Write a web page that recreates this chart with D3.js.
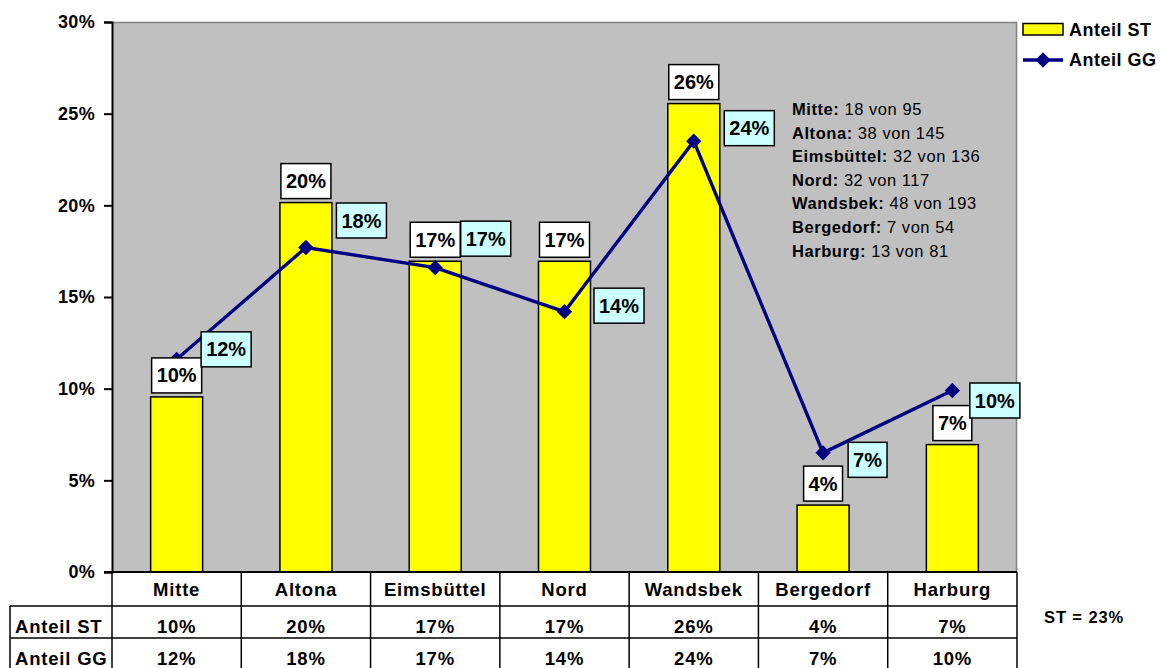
<!DOCTYPE html>
<html>
<head>
<meta charset="utf-8">
<script src="https://cdn.jsdelivr.net/npm/d3@7"></script>
<style>
  html, body { margin: 0; padding: 0; background: #fff; }
  svg { display: block; font-family: Arial, "Liberation Sans", sans-serif; }
</style>
</head>
<body>
<svg id="chart" width="1160" height="668"></svg>
<script>
// Bezirke
const districts = ["Mitte", "Altona", "Eimsbüttel", "Nord", "Wandsbek", "Bergedorf", "Harburg"];
// Anteil ST (bars)
const anteilST = [0.0955, 0.2015, 0.1695, 0.1695, 0.2555, 0.0365, 0.0695];
// Anteil GG (line)
const anteilGG = [0.116, 0.177, 0.166, 0.142, 0.235, 0.065, 0.099];
// y-axis ticks
const yTicks = [0, 0.05, 0.10, 0.15, 0.20, 0.25, 0.30];
// counts shown in the note box
const noteNames = ["Mitte:", "Altona:", "Eimsbüttel:", "Nord:", "Wandsbek:", "Bergedorf:", "Harburg:"];
const noteCounts = ["18 von 95", "38 von 145", "32 von 136", "32 von 117", "48 von 193", "7 von 54", "13 von 81"];
const seriesNames = ["Anteil ST", "Anteil GG"];
const totalNote = "ST = 23%";

// label placement for the GG labels (offset of the box from its point)
const ggLabelOffset = [[26, -10], [32, -27], [27, -29], [31, -6], [32, -13], [26, 7], [19, 10]];

const svg = d3.select("#chart");
const plot = { left: 112, right: 1017, top: 22, bottom: 572 };
const tableLeft = 10;
const rowLines = [572, 606, 638, 671];

const x = d3.scaleBand().domain(districts).range([plot.left, plot.right]);
const y = d3.scaleLinear().domain([0, 0.30]).range([plot.bottom, plot.top]);
const pct = d3.format(".0%");
const navy = "#000080";

// plot background
svg.append("rect")
  .attr("x", plot.left).attr("y", plot.top)
  .attr("width", plot.right - plot.left).attr("height", plot.bottom - plot.top)
  .attr("fill", "#C0C0C0");
svg.append("path")
  .attr("d", `M${plot.left},${plot.top + 0.5}H${plot.right - 0.5}V${plot.bottom}`)
  .attr("fill", "none").attr("stroke", "#808080").attr("stroke-width", 1.5);

// y axis
const yAxis = d3.axisLeft(y).tickValues(yTicks).tickFormat(pct).tickSize(8).tickPadding(9);
const gy = svg.append("g").attr("transform", `translate(${plot.left},0)`).call(yAxis);
gy.select(".domain").attr("stroke", "#000").attr("stroke-width", 2);
gy.selectAll(".tick line").attr("stroke", "#000").attr("stroke-width", 2);
gy.selectAll(".tick text")
  .attr("fill", "#000").attr("font-size", 18).attr("font-weight", "bold")
  .attr("letter-spacing", 0.3)
  .attr("font-family", "Arial, 'Liberation Sans', sans-serif");

// bars
const barW = 52;
svg.append("g").selectAll("rect").data(anteilST).join("rect")
  .attr("x", (d, i) => x(districts[i]) + x.bandwidth() / 2 - barW / 2)
  .attr("y", d => y(d))
  .attr("width", barW)
  .attr("height", d => y(0) - y(d))
  .attr("fill", "#FFFF00").attr("stroke", "#000").attr("stroke-width", 1.5);

// line + diamond markers
const cx = (i) => x(districts[i]) + x.bandwidth() / 2;
const line = d3.line().x((d, i) => cx(i)).y(d => y(d));
svg.append("path").datum(anteilGG)
  .attr("d", line).attr("fill", "none").attr("stroke", navy).attr("stroke-width", 3.4);
const diamond = d3.symbol().type(d3.symbolDiamond2).size(150);
svg.append("g").selectAll("path").data(anteilGG).join("path")
  .attr("d", diamond)
  .attr("transform", (d, i) => `translate(${cx(i)},${y(d)})`)
  .attr("fill", navy);

// label boxes
function labelBox(g, text, cxPos, cyPos, fill) {
  const t = g.append("text")
    .attr("x", cxPos).attr("y", cyPos)
    .attr("text-anchor", "middle").attr("dominant-baseline", "central")
    .attr("font-size", 20).attr("font-weight", "bold").attr("fill", "#000")
    .text(text);
  const w = t.node().getComputedTextLength() + 10;
  const h = 35;
  g.insert("rect", "text")
    .attr("x", cxPos - w / 2).attr("y", cyPos - h / 2)
    .attr("width", w).attr("height", h)
    .attr("fill", fill).attr("stroke", "#000").attr("stroke-width", 1.5);
  return w;
}

const stLabels = svg.append("g");
anteilST.forEach((d, i) => {
  const g = stLabels.append("g");
  labelBox(g, pct(d), cx(i), y(d) - 4 - 35 / 2, "#FFFFFF");
});
const ggLabels = svg.append("g");
anteilGG.forEach((d, i) => {
  const g = ggLabels.append("g");
  const txt = pct(d);
  const w = txt.length > 2 ? 47 : 37;
  const [dx, dy] = ggLabelOffset[i];
  labelBox(g, txt, cx(i) + dx + w / 2, y(d) + dy, "#CCFFFF");
});

// note block
const note = svg.append("g").attr("font-size", 16.5).attr("fill", "#000");
noteNames.forEach((n, i) => {
  const t = note.append("text")
    .attr("x", 792).attr("y", 115 + i * 23.6)
    .attr("letter-spacing", 0.55);
  t.append("tspan").attr("font-weight", "bold").text(n);
  t.append("tspan").text(" " + noteCounts[i]);
});

// legend
const leg = svg.append("g");
leg.append("rect").attr("x", 1023).attr("y", 23.5).attr("width", 40).attr("height", 11.5)
  .attr("fill", "#FFFF00").attr("stroke", "#000").attr("stroke-width", 1.5);
leg.append("line").attr("x1", 1023).attr("x2", 1063).attr("y1", 60).attr("y2", 60)
  .attr("stroke", navy).attr("stroke-width", 3.4);
leg.append("path").attr("d", diamond).attr("transform", "translate(1043,60)").attr("fill", navy);
seriesNames.forEach((s, i) => {
  leg.append("text").attr("x", 1069).attr("y", 30 + i * 30)
    .attr("dominant-baseline", "central")
    .attr("font-size", 18).attr("font-weight", "bold").attr("letter-spacing", 0.5)
    .text(s);
});

// data table
const tbl = svg.append("g");
const lineAttrs = (sel) => sel.attr("stroke", "#000").attr("stroke-width", 1.5);
tbl.append("line").attr("x1", plot.left - 8).attr("x2", plot.right).attr("y1", rowLines[0]).attr("y2", rowLines[0]).call(lineAttrs).attr("stroke-width", 2);
rowLines.slice(1).forEach(ry => {
  tbl.append("line").attr("x1", tableLeft).attr("x2", plot.right).attr("y1", ry).attr("y2", ry).call(lineAttrs);
});
tbl.append("line").attr("x1", tableLeft).attr("x2", tableLeft).attr("y1", rowLines[1]).attr("y2", rowLines[3]).call(lineAttrs);
districts.forEach((d, i) => {
  tbl.append("line").attr("x1", x(d)).attr("x2", x(d)).attr("y1", rowLines[0]).attr("y2", rowLines[3]).call(lineAttrs);
});
tbl.append("line").attr("x1", plot.right).attr("x2", plot.right).attr("y1", rowLines[0]).attr("y2", rowLines[3]).call(lineAttrs);

const cellText = (tx, ty, s, anchor) => tbl.append("text")
  .attr("x", tx).attr("y", ty).attr("text-anchor", anchor)
  .attr("font-size", 18.5).attr("font-weight", "bold").attr("letter-spacing", 0.8)
  .text(s);
districts.forEach((d, i) => {
  cellText(cx(i), 596, d, "middle");
  cellText(cx(i), 633, pct(anteilST[i]), "middle");
  cellText(cx(i), 665, pct(anteilGG[i]), "middle");
});
cellText(15, 633, seriesNames[0], "start");
cellText(15, 665, seriesNames[1], "start");

svg.append("text").attr("x", 1044).attr("y", 623)
  .attr("font-size", 16.5).attr("font-weight", "bold").attr("letter-spacing", 0.9)
  .text(totalNote);
</script>
</body>
</html>
